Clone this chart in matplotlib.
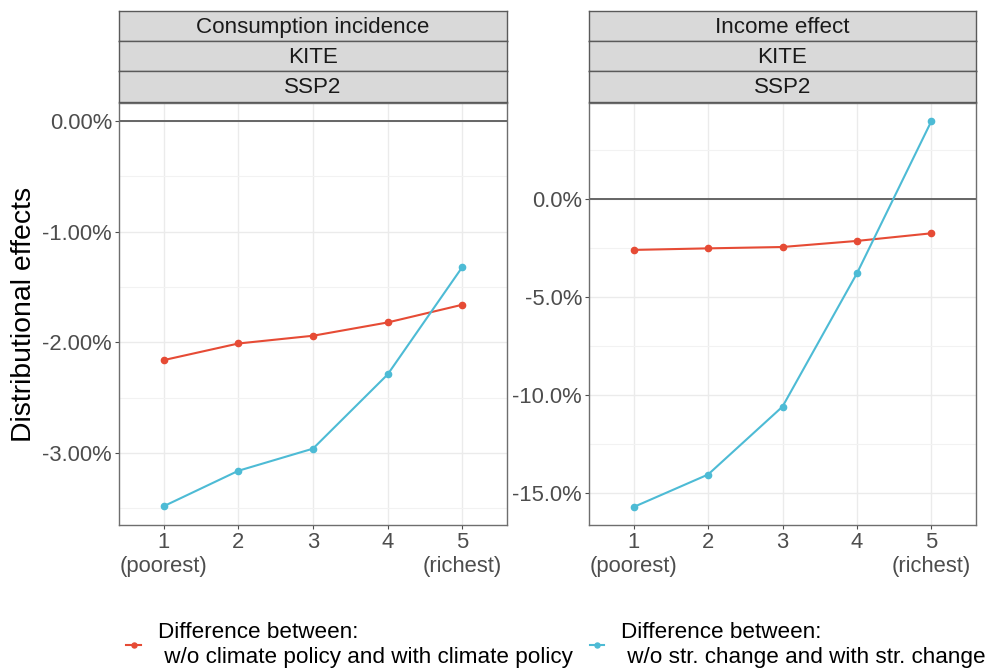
import matplotlib
matplotlib.use("Agg")
import matplotlib.pyplot as plt
from matplotlib.ticker import FixedLocator, FuncFormatter

plt.rcParams['font.family'] = ['Liberation Sans', 'DejaVu Sans']

# Income quintiles
quintiles = [1, 2, 3, 4, 5]
quintile_labels = ["1\n(poorest)", "2", "3", "4", "5\n(richest)"]

# Consumption incidence (percent)
cons_climate = [-2.16, -2.01, -1.94, -1.82, -1.66]
cons_struct = [-3.48, -3.16, -2.96, -2.29, -1.32]

# Income effect (percent)
inc_climate = [-2.59, -2.51, -2.44, -2.13, -1.74]
inc_struct = [-15.73, -14.07, -10.60, -3.79, 3.99]

series_labels = [
    "Difference between:\n w/o climate policy and with climate policy",
    "Difference between:\n w/o str. change and with str. change",
]
panel_titles = [
    ["Consumption incidence", "KITE", "SSP2"],
    ["Income effect", "KITE", "SSP2"],
]

RED = "#E64B35"
BLUE = "#4DBBD5"
W, H = 986, 672
FS = 15.8

fig = plt.figure(figsize=(W / 100, H / 100), dpi=100)


def px_box(x0, y0, x1, y1):
    return [x0 / W, 1 - y1 / H, (x1 - x0) / W, (y1 - y0) / H]


panels = [
    dict(box=(119, 103, 507, 525), ylim=(-3.65, 0.163),
         major=[0, -1, -2, -3], minor=[-0.5, -1.5, -2.5, -3.5],
         fmt="{:.2f}%", data=(cons_climate, cons_struct)),
    dict(box=(589, 103, 976, 525), ylim=(-16.65, 4.92),
         major=[0, -5, -10, -15], minor=[2.5, -2.5, -7.5, -12.5],
         fmt="{:.1f}%", data=(inc_climate, inc_struct)),
]

handles = []
for i, p in enumerate(panels):
    x0, y0, x1, y1 = p["box"]
    ax = fig.add_axes(px_box(x0, y0, x1, y1))
    ax.set_xlim(0.4, 5.6)
    ax.set_ylim(*p["ylim"])
    ax.yaxis.set_major_locator(FixedLocator(p["major"]))
    ax.yaxis.set_minor_locator(FixedLocator(p["minor"]))
    ax.yaxis.set_major_formatter(FuncFormatter(lambda v, pos, f=p["fmt"]: f.format(v)))
    ax.set_xticks(quintiles)
    ax.set_xticklabels(quintile_labels)
    ax.grid(which="major", color="#EBEBEB", lw=1.0, zorder=0)
    ax.grid(which="minor", axis="y", color="#F2F2F2", lw=0.8, zorder=0)
    ax.set_axisbelow(True)
    ax.tick_params(which="major", length=3, width=0.8, color="#4D4D4D",
                   labelsize=FS, labelcolor="#4D4D4D", pad=2)
    ax.tick_params(which="minor", length=0)
    for s in ax.spines.values():
        s.set_color("#6E6E6E")
        s.set_linewidth(1.0)
    ax.axhline(0, color="#5A5A5A", lw=1.3, zorder=1)
    c_vals, s_vals = p["data"]
    h1, = ax.plot(quintiles, c_vals, color=RED, lw=1.5, marker="o", ms=4.5, zorder=3)
    h2, = ax.plot(quintiles, s_vals, color=BLUE, lw=1.5, marker="o", ms=4.5, zorder=3)
    if i == 0:
        handles = [h1, h2]

    # facet strips
    strip_top, strip_bot = 11, 101.5
    sh = (strip_bot - strip_top) / 3
    for k, title in enumerate(panel_titles[i]):
        sy0 = strip_top + k * sh
        sax = fig.add_axes(px_box(x0, sy0, x1, sy0 + sh))
        sax.set_facecolor("#D9D9D9")
        sax.set_xticks([])
        sax.set_yticks([])
        for s in sax.spines.values():
            s.set_color("#5A5A5A")
            s.set_linewidth(1.0)
        sax.text(0.5, 0.45, title, ha="center", va="center",
                 fontsize=16.1, color="#1A1A1A", transform=sax.transAxes)

fig.text(24 / W, 1 - 314 / H, "Distributional effects", rotation=90,
         ha="center", va="center", fontsize=20.4, color="black")

fig.legend(handles, series_labels, ncol=2, loc="center",
           bbox_to_anchor=(556 / W, 1 - 645 / H), frameon=False,
           fontsize=16.2, handlelength=0.65, handletextpad=0.75,
           columnspacing=0.75, markerscale=0.8, borderpad=0, borderaxespad=0)

fig.savefig("out.png", dpi=100)
